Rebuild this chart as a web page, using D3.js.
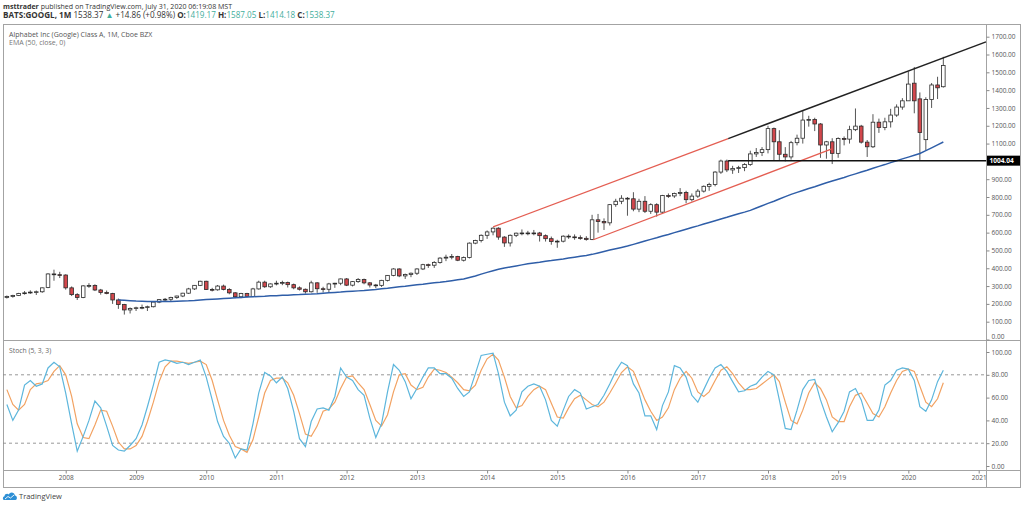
<!DOCTYPE html>
<html>
<head>
<meta charset="utf-8">
<script src="https://cdnjs.cloudflare.com/ajax/libs/d3/7.8.5/d3.min.js"></script>
<style>
  body { margin: 0; background: #fff; }
  svg { display: block; font-family: "Open Sans", "Noto Sans", sans-serif; }
</style>
</head>
<body>
<div id="chart"></div>
<script>
// Monthly candles, first one is March 2007
var firstYear = 2007, firstMonth = 2;

var opens  = [236,241,247,258,262,266,268,292,368,364, 362,290,252,236,301,303,278,264,258,222, 196,166,174,178,180,184,210,224,226,236, 244,260,284,304,327,281,279,300,281,262,
              240,258,242,284,322,296,312,316,320,308, 290,282,268,318,285,282,312,316,340,305, 325,337,318,306,304,332,360,396,357,365, 372,396,420,417,432,457,462,466,445,460,
              541,556,585,604,625,575,542,585,597,598, 596,598,583,566,550,552,580,576,572,568, 562,672,662,655,757,776,793,790,732,776, 720,757,715,808,806,820,825,785,805,833,
              860,870,940,1002,952,960,965,982,1042,1050, 1066,1184,1110,1040,1025,1105,1130,1232,1235,1210, 1092,1110,1045,1128,1125,1178,1198,1108,1082,1220, 1190,1222,1260,1305,1340,1439,1351,1122,1347,1429, 1419.17];
var highs  = [247,251,262,272,276,275,292,372,392,380, 366,298,260,305,316,310,284,275,262,230, 200,180,184,196,190,212,226,233,240,246, 262,290,306,330,330,290,306,308,288,266,
              262,262,290,330,330,315,330,330,325,314, 298,286,330,322,296,318,318,342,345,328, 345,342,322,312,335,362,400,400,370,376, 400,425,426,440,462,476,480,470,466,545,
              560,590,612,630,630,580,590,600,618,610, 615,604,590,578,560,585,590,590,585,580, 700,705,680,760,790,810,800,827,790,805, 765,765,812,820,825,850,835,820,845,865,
              880,945,1010,1010,975,975,990,1060,1075,1080, 1200,1190,1175,1080,1115,1150,1285,1256,1245,1215, 1115,1130,1135,1140,1200,1297,1205,1120,1265,1240, 1245,1295,1320,1355,1505,1530,1387,1360,1440,1475, 1587.05];
var lows   = [230,235,244,252,256,250,262,288,330,345, 280,244,222,232,290,272,252,254,200,172, 140,146,160,170,160,180,204,212,214,228, 238,256,278,300,278,270,274,276,254,232,
              232,236,238,280,290,290,304,305,292,282, 275,258,264,262,264,264,290,305,300,298, 318,310,292,288,295,326,355,350,340,350, 362,390,402,402,426,440,450,440,438,455,
              535,545,565,585,560,520,522,575,585,585, 585,550,550,532,515,545,565,560,560,555, 558,600,615,640,745,760,695,720,715,710, 705,690,705,795,795,805,765,775,795,825,
              835,860,930,940,930,935,945,975,1025,1030, 1045,1005,1005,1000,1010,1090,1100,1195,1170,1020, 1015,985,1020,1090,1100,1170,1100,1025,1075,1160, 1175,1190,1250,1290,1340,1270,1008,1064,1300,1350, 1414.18];
var closes = [241,247,258,262,266,268,290,368,364,362, 290,252,236,301,303,278,264,258,222,196, 166,174,178,180,184,210,224,226,236,244, 260,284,304,327,281,279,300,281,262,240,
              258,242,284,322,296,312,316,320,308,290, 282,268,318,285,282,312,316,340,305,325, 337,318,306,304,332,360,396,357,365,372, 396,420,417,432,457,462,466,445,460,541,
              556,585,604,625,575,542,585,597,598,596, 598,583,566,550,552,580,576,572,568,562, 672,662,655,757,776,793,790,732,776,720, 757,715,808,806,820,825,785,805,833,860,
              870,940,1002,952,960,965,982,1042,1050,1066, 1184,1110,1040,1025,1105,1130,1232,1235,1210,1092, 1110,1045,1128,1125,1178,1198,1108,1082,1220,1190, 1222,1260,1305,1340,1434,1340,1162,1347,1429,1413, 1538.37];

// EMA(50), first visible value at candle 19 (Oct 2008)
var emaStart = 19;
var emaValues = [222,220,218,216,215,214,213,213,213,214, 215,216,217,219,222,224,226,228,230,232, 234,236,238,240,242,243,245,246,248,249,
                 251,252,254,255,257,260,262,264,266,269, 271,273,275,278,281,285,288,292,296,299, 303,307,310,314,318,321,325,330,335,340,
                 348,357,367,377,386,394,401,407,413,419, 425,430,434,439,443,448,452,457,462,467, 472,478,486,494,502,510,517,525,534,543,
                 553,562,571,581,590,600,609,619,629,638, 648,657,667,677,686,696,706,715,725,738, 751,764,776,789,802,815,826,837,848,858,
                 869,880,890,900,910,920,930,940,950,961, 972,982,993,1004,1014,1024,1034,1044,1060,1076, 1093,1109];

// Stochastic (5,3,3): %K and %D, one value per candle
var stochK = [54,40,49,71,75,70,72,86,91,87, 64,37,13,26,40,57,51,35,18,14, 13,18,24,36,52,71,91,93,92,90, 91,89,91,93,78,58,39,26,20,7,
              15,14,37,64,82,79,73,78,68,48, 24,17,39,50,51,49,61,86,78,75, 67,62,42,25,37,65,89,84,74,59, 68,78,86,86,81,81,77,68,61,65,
              81,97,98,99,81,56,44,49,65,70, 72,70,58,40,35,49,61,67,64,50, 52,54,62,72,83,91,88,72,64,44, 44,32,53,65,88,86,78,62,56,67,
              77,86,89,83,74,65,66,70,72,78, 83,80,58,33,32,49,67,75,76,58, 43,30,38,48,65,68,58,40,40,49, 71,75,84,86,85,75,52,48,58,74, 84];
var stochD = [67,54,49,54,67,72,73,75,83,88, 80,61,37,25,24,36,49,48,35,21, 15,15,18,26,39,56,74,87,92,92, 91,90,91,92,89,75,58,40,27,17,
              15,12,23,43,64,75,77,77,73,62, 46,28,26,35,48,50,56,68,78,79, 73,67,54,40,35,45,65,80,81,71, 67,69,78,85,84,82,78,73,67,66,
              71,84,94,98,93,78,61,51,53,61, 67,70,67,55,43,42,51,59,62,58, 54,52,56,64,73,82,87,83,71,58, 48,40,43,51,67,77,83,77,65,61,
              65,75,84,87,81,73,67,67,68,72, 76,80,74,56,40,37,49,64,73,68, 58,43,39,39,52,62,64,55,46,43, 52,64,75,83,85,83,70,56,52,59, 73];

var priceTicks = [0,100,200,300,400,500,600,700,800,900,1100,1200,1300,1400,1500,1600,1700];
var stochTicks = [0,20,40,60,80,100];
var yearTicks  = [2008,2009,2010,2011,2012,2013,2014,2015,2016,2017,2018,2019,2020,2021];

// drawn lines: [date, price] end points
var upperChannel = [[new Date(2014,1,1), 632], [new Date(2017,5,8), 1128]];
var upperTrend   = [[new Date(2017,5,8), 1128], [new Date(2021,1,8), 1671]];
var lowerChannel = [[new Date(2015,6,7), 560], [new Date(2018,10,29), 1070]];
var supportLevel = 1004.04, supportFrom = new Date(2017,5,8);

// layout
var width = 1024, height = 507;
var frameL = 3, frameT = 24, frameR = 1020, frameB = 487;
var plotR = 986.5, paneSplit = 340, axisTop = 470;

var svg = d3.select("#chart").append("svg")
    .attr("width", width)
    .attr("height", height);

var x = d3.scaleTime()
    .domain([new Date(2008,0,1), new Date(2021,0,1)])
    .range([65.7, 978.7]);
var y = d3.scaleLinear().domain([0,1700]).range([339.5, 36.7]);
var ys = d3.scaleLinear().domain([0,100]).range([466, 352]);

var candleDate = function(i) { return new Date(firstYear, firstMonth + i, 1); };

var defs = svg.append("defs");
defs.append("clipPath").attr("id", "clipPrice")
    .append("rect").attr("x", frameL).attr("y", frameT).attr("width", plotR - frameL).attr("height", paneSplit - frameT);
defs.append("clipPath").attr("id", "clipStoch")
    .append("rect").attr("x", frameL).attr("y", paneSplit).attr("width", plotR - frameL).attr("height", axisTop - paneSplit);

// header
var head1 = svg.append("text").attr("x", 3).attr("y", 8.5).attr("font-size", 7.05).attr("fill", "#333");
head1.append("tspan").attr("font-weight", "bold").text("msttrader");
head1.append("tspan").text(" published on TradingView.com, July 31, 2020 06:19:08 MST");

var teal = "#3fae9c";
var head2 = svg.append("text").attr("x", 3).attr("y", 18.2).attr("font-size", 8.1).attr("fill", "#333");
head2.append("tspan").attr("font-weight", "bold").text("BATS:GOOGL, 1M");
head2.append("tspan").text(" 1538.37 ");
head2.append("tspan").attr("fill", teal).text("▲");
head2.append("tspan").text(" +14.86 (+0.98%) ");
[["O:", "1419.17"], ["H:", "1587.05"], ["L:", "1414.18"], ["C:", "1538.37"]].forEach(function(p, k) {
  head2.append("tspan").attr("font-weight", "bold").text((k ? " " : "") + p[0]);
  head2.append("tspan").attr("fill", teal).text(p[1]);
});

// frame
var frameColor = "#a3a3a3";
svg.append("rect").attr("x", frameL + 0.5).attr("y", frameT + 0.5)
    .attr("width", frameR - frameL).attr("height", frameB - frameT)
    .attr("fill", "none").attr("stroke", frameColor);
svg.append("line").attr("x1", plotR).attr("x2", plotR).attr("y1", frameT).attr("y2", frameB).attr("stroke", frameColor);
svg.append("line").attr("x1", frameL).attr("x2", frameR).attr("y1", paneSplit + 0.5).attr("y2", paneSplit + 0.5).attr("stroke", frameColor);
svg.append("line").attr("x1", frameL).attr("x2", frameR).attr("y1", axisTop + 0.5).attr("y2", axisTop + 0.5).attr("stroke", frameColor);

// pane captions
svg.append("text").attr("x", 9).attr("y", 36.5).attr("font-size", 7).attr("fill", "#555")
    .text("Alphabet Inc (Google) Class A, 1M, Cboe BZX");
svg.append("text").attr("x", 9).attr("y", 44.8).attr("font-size", 7).attr("fill", "#777")
    .text("EMA (50, close, 0)");
svg.append("text").attr("x", 9).attr("y", 352.5).attr("font-size", 6.8).attr("fill", "#666")
    .text("Stoch (5, 3, 3)");

// price pane
var pg = svg.append("g").attr("clip-path", "url(#clipPrice)");

var idx = d3.range(closes.length);
var bodyW = 3.6;
var candles = pg.selectAll("g.candle").data(idx).enter().append("g").attr("class", "candle");
candles.append("line")
    .attr("x1", function(i) { return x(candleDate(i)); })
    .attr("x2", function(i) { return x(candleDate(i)); })
    .attr("y1", function(i) { return y(highs[i]); })
    .attr("y2", function(i) { return y(lows[i]); })
    .attr("stroke", "#2b2b2b").attr("stroke-width", 0.8);
candles.append("rect")
    .attr("x", function(i) { return x(candleDate(i)) - bodyW / 2; })
    .attr("y", function(i) { return y(Math.max(opens[i], closes[i])); })
    .attr("width", bodyW)
    .attr("height", function(i) { return Math.max(0.8, Math.abs(y(opens[i]) - y(closes[i]))); })
    .attr("fill", function(i) { return closes[i] >= opens[i] ? "#fff" : "#d2474c"; })
    .attr("stroke", "#2b2b2b").attr("stroke-width", 0.8);

var ema = d3.line()
    .x(function(d, k) { return x(candleDate(emaStart + k)); })
    .y(function(d) { return y(d); });
pg.append("path").datum(emaValues).attr("d", ema)
    .attr("fill", "none").attr("stroke", "#2f5ea8").attr("stroke-width", 1.5);

var seg = d3.line().x(function(d) { return x(d[0]); }).y(function(d) { return y(d[1]); });
pg.append("path").datum(upperChannel).attr("d", seg).attr("stroke", "#e45e52").attr("stroke-width", 1.3).attr("fill", "none");
pg.append("path").datum(lowerChannel).attr("d", seg).attr("stroke", "#e45e52").attr("stroke-width", 1.3).attr("fill", "none");
pg.append("path").datum(upperTrend).attr("d", seg).attr("stroke", "#222").attr("stroke-width", 1.5).attr("fill", "none");
pg.append("line")
    .attr("x1", x(supportFrom)).attr("x2", plotR)
    .attr("y1", y(supportLevel)).attr("y2", y(supportLevel))
    .attr("stroke", "#111").attr("stroke-width", 1.5);

// price axis
var fmt = d3.format(".2f");
var pAxis = svg.append("g").attr("transform", "translate(" + plotR + ",0)")
    .call(d3.axisRight(y).tickValues(priceTicks).tickSize(3).tickPadding(2).tickFormat(fmt));
pAxis.select(".domain").remove();
pAxis.selectAll("line").attr("stroke", "#888");
pAxis.selectAll("text").attr("font-size", 6.5).attr("fill", "#555").attr("font-family", "Open Sans, sans-serif")
    .attr("dy", function(d) { return d === 0 ? "-0.1em" : "0.32em"; });

svg.append("rect").attr("x", plotR + 0.5).attr("y", y(supportLevel) - 5)
    .attr("width", frameR - plotR - 0.5).attr("height", 10).attr("fill", "#000");
svg.append("text").attr("x", plotR + 3).attr("y", y(supportLevel) + 2.4)
    .attr("font-size", 6.5).attr("font-weight", "bold").attr("fill", "#fff")
    .text(fmt(supportLevel));

// stochastic pane
var sg = svg.append("g").attr("clip-path", "url(#clipStoch)");
[80, 20].forEach(function(v) {
  sg.append("line").attr("x1", frameL).attr("x2", plotR)
      .attr("y1", ys(v)).attr("y2", ys(v))
      .attr("stroke", "#8c8c8c").attr("stroke-width", 0.9).attr("stroke-dasharray", "3,3");
});
var stochLine = d3.line()
    .x(function(d, k) { return x(candleDate(k)); })
    .y(function(d) { return ys(d); });
sg.append("path").datum(stochD).attr("d", stochLine)
    .attr("fill", "none").attr("stroke", "#f2a262").attr("stroke-width", 1.2);
sg.append("path").datum(stochK).attr("d", stochLine)
    .attr("fill", "none").attr("stroke", "#5db6dc").attr("stroke-width", 1.2);

var sAxis = svg.append("g").attr("transform", "translate(" + plotR + ",0)")
    .call(d3.axisRight(ys).tickValues(stochTicks).tickSize(3).tickPadding(2).tickFormat(fmt));
sAxis.select(".domain").remove();
sAxis.selectAll("line").attr("stroke", "#888");
sAxis.selectAll("text").attr("font-size", 6.5).attr("fill", "#555").attr("font-family", "Open Sans, sans-serif");

// time axis
var tAxis = svg.append("g").attr("transform", "translate(0," + (axisTop + 0.5) + ")")
    .call(d3.axisBottom(x)
      .tickValues(yearTicks.map(function(yr) { return new Date(yr, 0, 1); }))
      .tickSize(3).tickPadding(2)
      .tickFormat(d3.timeFormat("%Y")));
tAxis.select(".domain").remove();
tAxis.selectAll("line").attr("stroke", "#888");
tAxis.selectAll("text").attr("font-size", 6.5).attr("fill", "#555").attr("font-family", "Open Sans, sans-serif");

// TradingView mark
var logo = svg.append("g").attr("transform", "translate(3,491)");
logo.append("path")
    .attr("d", "M1,9 C-0.5,9 -0.5,5.5 1.5,5.3 C1.8,2.8 4.6,2.2 5.8,3.6 C6.8,0.6 11.4,0.8 11.8,4.4 C14.2,4.2 14.8,8.6 12.4,9 Z")
    .attr("fill", "#2d8fd5");
logo.append("path")
    .attr("d", "M2,8 L5,5.5 L7.5,7 L11,4")
    .attr("fill", "none").attr("stroke", "#fff").attr("stroke-width", 0.9);
svg.append("text").attr("x", 19).attr("y", 499).attr("font-size", 7.5).attr("fill", "#444")
    .text("TradingView");
</script>
</body>
</html>
